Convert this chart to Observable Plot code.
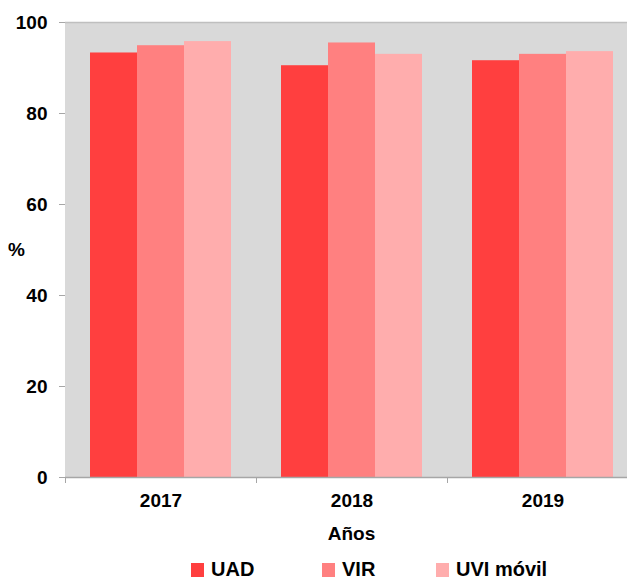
<!DOCTYPE html>
<html>
<head>
<meta charset="utf-8">
<script src="https://cdn.jsdelivr.net/npm/d3@7"></script>
<script src="https://cdn.jsdelivr.net/npm/@observablehq/plot@0.6"></script>
<style>
html, body { margin: 0; padding: 0; overflow: hidden; background: #fff; }
#wrap { position: relative; width: 627px; height: 579px; overflow: hidden;
  font-family: "Liberation Sans", Arial, sans-serif; font-weight: bold; color: #000; }
#chart { position: absolute; left: 0; top: 0; width: 638px; }
#chart svg { max-width: none !important; }
#ylab { position: absolute; left: 8px; top: 238px; font-size: 19px; line-height: 24px; }
#xlab { position: absolute; left: 65px; width: 573px; top: 522px; text-align: center; font-size: 19px; line-height: 24px; }
.leg { position: absolute; top: 559px; height: 20px; font-size: 20px; line-height: 20px; white-space: nowrap; }
.leg .sw { display: inline-block; width: 13px; height: 14px; margin-right: 7px; vertical-align: -1px; }
</style>
</head>
<body>
<div id="wrap">
  <div id="chart"></div>
  <div id="ylab">%</div>
  <div id="xlab">Años</div>
  <div id="legend"></div>
</div>
<script>
const years = ["2017", "2018", "2019"];
const series = ["UAD", "VIR", "UVI móvil"];
const uad = [93.3, 90.5, 91.6];
const vir = [94.9, 95.5, 93.0];
const uviMovil = [95.8, 93.0, 93.6];
const colors = ["#ff3f3f", "#ff8080", "#ffadad"];
const yTicks = [0, 20, 40, 60, 80, 100];

const values = [uad, vir, uviMovil];
const data = years.flatMap((year, i) =>
  series.map((serie, j) => ({year, serie, value: values[j][i]}))
);

const chart = Plot.plot({
  width: 638,
  height: 510,
  marginTop: 22,
  marginBottom: 33,
  marginLeft: 65,
  marginRight: 0,
  style: {fontFamily: '"Liberation Sans", Arial, sans-serif', fontSize: "19px", fontWeight: "bold", color: "#000", background: "transparent", overflow: "visible", maxWidth: "none"},
  fx: {domain: years, padding: 0, label: null},
  x: {domain: series, paddingInner: 0, paddingOuter: 0.52, axis: null},
  y: {domain: [0, 100], label: null},
  color: {domain: series, range: colors},
  marks: [
    Plot.frame({fill: "#d9d9d9", stroke: "#d9d9d9", strokeWidth: 1}),
    Plot.ruleY([100], {stroke: "#bfbfbf", strokeWidth: 1.5}),
    Plot.barY(data, {fx: "year", x: "serie", y: "value", fill: "serie"}),
    Plot.ruleY([0], {stroke: "#a6a6a6", strokeWidth: 1.5}),
    Plot.axisY(yTicks, {tickSize: 6, tickPadding: 12, stroke: "#a6a6a6", fill: "#000", line: true, label: null}),
    Plot.axisFx({anchor: "bottom", tickSize: 0, tickPadding: 16, label: null, fill: "#000"}),
    Plot.axisFx({anchor: "bottom", tickSize: 6, tickFormat: () => "", dx: -95.5, label: null, stroke: "#a6a6a6"})
  ]
});
document.getElementById("chart").appendChild(chart);

const legendLefts = [191, 322, 436];
const legend = document.getElementById("legend");
series.forEach((s, i) => {
  const item = document.createElement("div");
  item.className = "leg";
  item.style.left = legendLefts[i] + "px";
  const sw = document.createElement("span");
  sw.className = "sw";
  sw.style.background = colors[i];
  item.appendChild(sw);
  item.appendChild(document.createTextNode(s));
  legend.appendChild(item);
});
</script>
</body>
</html>
